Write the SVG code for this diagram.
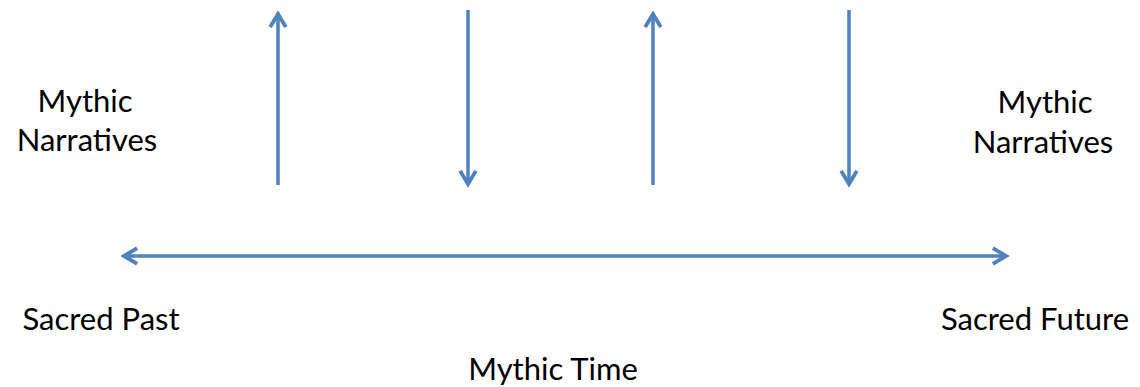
<svg xmlns="http://www.w3.org/2000/svg" width="1140" height="387" viewBox="0 0 1140 387">
<style>
.t{font-family:Lato,"Liberation Sans",sans-serif;font-size:31px;fill:#000;text-anchor:middle}
.c{stroke:#4f81bd;stroke-width:3.5;fill:none}
</style>
<defs>
<marker id="ah" viewBox="0 0 12 12" refX="10" refY="6" markerWidth="6" markerHeight="6" orient="auto-start-reverse" markerUnits="strokeWidth">
<polyline points="2.5,1.5 10,6 2.5,10.5" fill="none" stroke="#4f81bd" stroke-width="2.2" stroke-linejoin="miter"/>
</marker>
</defs>
<rect width="1140" height="387" fill="#fff"/>
<g id="connectors">
<line class="c" x1="278" y1="185" x2="278" y2="14" marker-end="url(#ah)"/>
<line class="c" x1="468" y1="10" x2="468" y2="184" marker-end="url(#ah)"/>
<line class="c" x1="653" y1="185" x2="653" y2="14" marker-end="url(#ah)"/>
<line class="c" x1="849" y1="10" x2="849" y2="184" marker-end="url(#ah)"/>
<line class="c" x1="124" y1="256" x2="1006" y2="256" marker-start="url(#ah)" marker-end="url(#ah)"/>
</g>
<g id="left-narratives"><text class="t" x="85" y="112">Mythic</text><text class="t" x="87" y="151">Narratives</text></g>
<g id="right-narratives"><text class="t" x="1045" y="113">Mythic</text><text class="t" x="1043" y="153">Narratives</text></g>
<g id="sacred-past"><text class="t" x="101" y="330">Sacred Past</text></g>
<g id="sacred-future"><text class="t" x="1035" y="330">Sacred Future</text></g>
<g id="mythic-time"><text class="t" x="553" y="380">Mythic Time</text></g>
</svg>
